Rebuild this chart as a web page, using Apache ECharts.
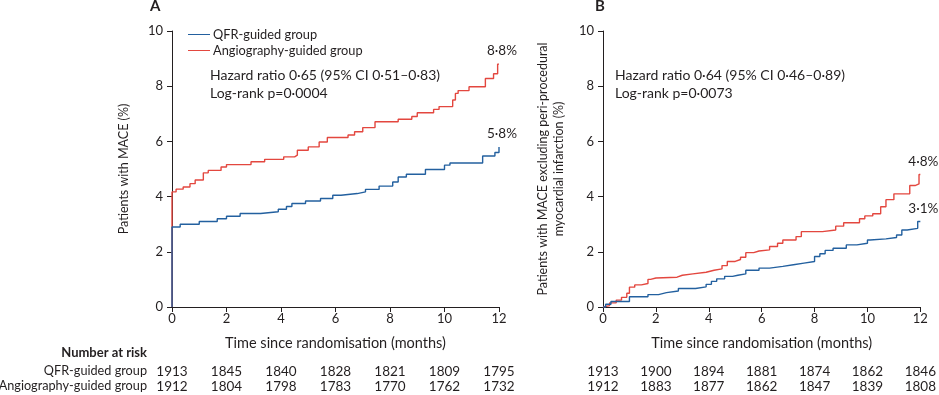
<!DOCTYPE html>
<html><head><meta charset="utf-8">
<script src="https://cdn.jsdelivr.net/npm/echarts@6/dist/echarts.min.js"></script>
<style>html,body{margin:0;padding:0;background:#fff}#c{width:939px;height:395px}</style>
</head><body><div id="c"></div>
<script>
// ---- data ----
const xTicks = [0, 2, 4, 6, 8, 10, 12];
const riskA_qfr = [1913, 1845, 1840, 1828, 1821, 1809, 1795];
const riskA_ang = [1912, 1804, 1798, 1783, 1770, 1762, 1732];
const riskB_qfr = [1913, 1900, 1894, 1881, 1874, 1862, 1846];
const riskB_ang = [1912, 1883, 1877, 1862, 1847, 1839, 1808];

// [time (months), cumulative %] step points
const qfrA = [[0,0],[0,1.1],[0,2.9],[0.3,3.0],[1.0,3.1],[1.66,3.2],[2.0,3.29],[2.5,3.39],[3.25,3.45],[3.9,3.54],[4.2,3.64],[4.4,3.75],[4.9,3.84],[5.45,3.93],[5.9,4.05],[6.2,4.11],[6.8,4.17],[7.1,4.26],[7.6,4.38],[8.1,4.53],[8.3,4.71],[8.6,4.81],[9.3,4.98],[10.0,5.14],[10.2,5.22],[11.4,5.47],[11.85,5.6],[12,5.8]];
const angA = [[0,0],[0,4.17],[0.15,4.27],[0.41,4.35],[0.66,4.47],[0.85,4.6],[1.15,4.86],[1.33,4.95],[1.8,5.07],[2.0,5.16],[2.9,5.26],[3.4,5.35],[4.1,5.44],[4.5,5.5],[4.6,5.68],[5.0,5.8],[5.4,5.98],[5.7,6.14],[6.46,6.23],[6.7,6.35],[7.0,6.5],[7.45,6.71],[8.3,6.8],[8.8,6.9],[9.0,7.04],[9.6,7.16],[9.8,7.26],[10.3,7.5],[10.4,7.74],[10.5,7.84],[10.9,7.98],[11.5,8.28],[11.8,8.45],[11.95,8.8],[12,8.8]];
const qfrB = [[0,0],[0.1,0.1],[0.3,0.2],[1.0,0.37],[1.7,0.45],[2.1,0.52],[2.4,0.58],[2.85,0.67],[3.5,0.73],[3.9,0.82],[4.1,0.93],[4.3,1.02],[4.6,1.11],[4.9,1.15],[5.1,1.2],[5.4,1.33],[5.9,1.41],[6.3,1.47],[6.8,1.53],[7.2,1.59],[7.6,1.65],[8.0,1.83],[8.2,1.93],[8.4,2.05],[8.7,2.13],[9.2,2.25],[9.6,2.31],[10.0,2.43],[10.1,2.47],[10.7,2.52],[11.1,2.61],[11.3,2.79],[11.5,2.85],[11.9,3.1],[12,3.1]];
const angB = [[0,0],[0.05,0.05],[0.25,0.15],[0.5,0.25],[0.7,0.35],[0.9,0.5],[1.0,0.72],[1.2,0.8],[1.45,0.85],[1.7,1.0],[1.8,1.05],[2.0,1.08],[2.8,1.15],[3.0,1.2],[3.4,1.26],[3.9,1.33],[4.2,1.38],[4.5,1.5],[4.7,1.65],[5.0,1.72],[5.2,1.8],[5.4,1.97],[5.7,2.03],[5.9,2.07],[6.3,2.19],[6.6,2.31],[6.8,2.43],[7.3,2.55],[7.5,2.73],[8.3,2.79],[8.8,2.93],[9.1,3.05],[9.7,3.2],[9.9,3.3],[10.2,3.38],[10.5,3.63],[10.7,3.89],[11.0,4.1],[11.6,4.4],[11.8,4.46],[11.95,4.8],[12,4.8]];

const endA = {qfr: '5·8%', ang: '8·8%'};
const endB = {qfr: '3·1%', ang: '4·8%'};
const hazardA = ['Hazard ratio 0·65 (95% CI 0·51–0·83)', 'Log-rank p=0·0004'];
const hazardB = ['Hazard ratio 0·64 (95% CI 0·46–0·89)', 'Log-rank p=0·0073'];

// ---- styles ----
const FONT = 'Lato, "Noto Sans", sans-serif';
const TXT = '#231f20';
const BLUE = '#23609f';
const RED = '#e3473f';

const grids = [
  {left: 172, top: 31, width: 327, height: 276},
  {left: 603, top: 31, width: 324, height: 276}
];

function mainX(gi) {
  return {type:'value', gridIndex: gi, min:0, max:12, interval:2,
    name:'Time since randomisation (months)', nameLocation:'middle', nameGap: 29,
    nameTextStyle:{color:TXT, fontSize:14.5, fontFamily:FONT},
    axisLine:{onZero:false, lineStyle:{color:TXT, width:1}},
    axisTick:{inside:false, length:5, lineStyle:{color:TXT}},
    axisLabel:{color:TXT, fontSize:13, fontFamily:FONT, margin:5},
    splitLine:{show:false}};
}
function riskX(gi, arr, off) {
  return {type:'value', gridIndex: gi, min:0, max:12, interval:2, position:'bottom', offset: off,
    axisLine:{show:false}, axisTick:{show:false}, splitLine:{show:false},
    axisLabel:{color:TXT, fontSize:13.5, fontFamily:FONT, margin:0,
      formatter: v => { const i = xTicks.indexOf(v); return i >= 0 ? String(arr[i]) : ''; }}};
}
function mainY(gi, name, gap) {
  return {type:'value', gridIndex: gi, min:0, max:10, interval:2,
    name, nameLocation:'middle', nameGap: gap, nameRotate: 90,
    nameTextStyle:{color:TXT, fontSize:12.5, fontFamily:FONT, lineHeight:16},
    axisLine:{show:true, lineStyle:{color:TXT, width:1}},
    axisTick:{show:true, length:5, lineStyle:{color:TXT}},
    axisLabel:{color:TXT, fontSize:13, fontFamily:FONT, margin:9},
    splitLine:{show:false}};
}
function stepSeries(name, data, xi, yi, color, label, isRed) {
  return {type:'line', name, data, xAxisIndex: xi, yAxisIndex: yi, step:'end',
    showSymbol:false, symbol:'none', animation:false, z: isRed ? 3 : 4,
    lineStyle:{color, width:1.4}, itemStyle:{color},
    markPoint: {symbol:'circle', symbolSize:0, silent:true, animation:false,
      label:{show:true, position:'top', distance:6, offset:[3,0], formatter: label,
        color:TXT, fontSize:13.5, fontFamily:FONT},
      data:[{coord: data[data.length-1]}]}};
}

const chart = echarts.init(document.getElementById('c'), null, {renderer:'canvas'});
chart.setOption({
  backgroundColor:'#fff',
  animation:false,
  grid: grids,
  xAxis: [mainX(0), mainX(1),
    riskX(0, riskA_qfr, 58), riskX(0, riskA_ang, 73),
    riskX(1, riskB_qfr, 58), riskX(1, riskB_ang, 73)],
  yAxis: [mainY(0, 'Patients with MACE (%)', 40),
    mainY(1, 'Patients with MACE excluding peri-procedural\nmyocardial infarction (%)', 36)],
  legend: {left: 183, top: 23, orient:'vertical', itemGap: 3, itemWidth: 22, itemHeight: 10,
    icon: 'path://M0,5 L22,5 L22,6 L0,6 Z',
    textStyle:{color:TXT, fontSize:12.8, fontFamily:FONT, padding:[0,0,0,-2]},
    data:['QFR-guided group','Angiography-guided group']},
  series: [
    stepSeries('Angiography-guided group', angA, 0, 0, RED, endA.ang, true),
    stepSeries('QFR-guided group', qfrA, 0, 0, BLUE, endA.qfr, false),
    stepSeries('Angiography-guided group ', angB, 1, 1, RED, endB.ang, true),
    stepSeries('QFR-guided group ', qfrB, 1, 1, BLUE, endB.qfr, false)
  ],
  graphic: [
    {type:'text', left: 150, top: -1, style:{text:'A', font:'bold 15px '+FONT, fill:TXT}},
    {type:'text', left: 595, top: -1, style:{text:'B', font:'bold 15px '+FONT, fill:TXT}},
    {type:'text', left: 210, top: 66, style:{text: hazardA.join('\n'), font:'14px '+FONT, fill:TXT, lineHeight:18}},
    {type:'text', left: 615, top: 66, style:{text: hazardB.join('\n'), font:'14px '+FONT, fill:TXT, lineHeight:18}},
    {type:'text', right: 939-147, top: 346, style:{text:'Number at risk', font:'bold 13px '+FONT, fill:TXT, textAlign:'right'}},
    {type:'text', right: 939-147, top: 364, style:{text:'QFR-guided group', font:'12.7px '+FONT, fill:TXT, textAlign:'right'}},
    {type:'text', right: 939-147, top: 379, style:{text:'Angiography-guided group', font:'12.7px '+FONT, fill:TXT, textAlign:'right'}}
  ]
});
</script></body></html>
